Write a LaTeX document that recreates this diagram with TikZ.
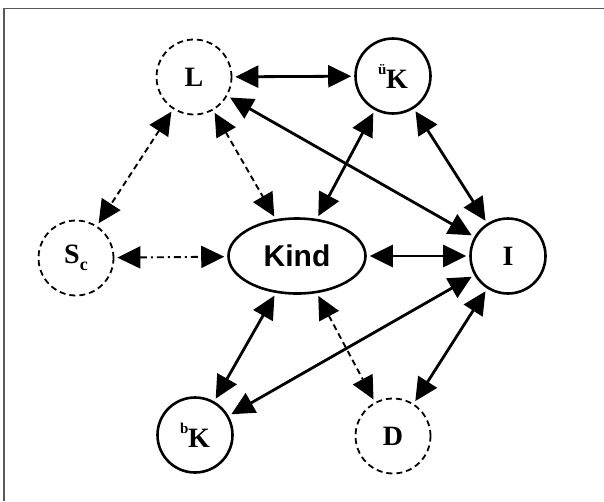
\documentclass[tikz,border=0pt]{standalone}
\usepackage{fontspec}
\setmainfont{Liberation Serif}
\newfontfamily\kindfont{Liberation Sans}
\usetikzlibrary{arrows.meta,shapes.geometric}
\tikzset{
  nd/.style={circle,draw,line width=2.6pt,minimum size=75pt,inner sep=0pt,font=\bfseries\fontsize{28}{28}\selectfont},
  dnd/.style={nd,line width=1.8pt,dash pattern=on 6pt off 4pt},
  conn/.style={line width=2.8pt,{Triangle[length=23pt,width=22pt]}-{Triangle[length=23pt,width=22pt]},shorten <=3pt,shorten >=3pt},
  dconn/.style={conn,line width=1.9pt,dash pattern=on 6pt off 4pt},
  ddconn/.style={conn,line width=1.9pt,dash pattern=on 7pt off 4pt on 2pt off 4pt},
  frame/.style={draw=black!65,line width=1.5pt}
}
\newcommand{\supsc}[1]{\raisebox{0.5em}{\fontsize{15}{15}\selectfont #1}}
\begin{document}
\begin{tikzpicture}[x=1pt,y=-1pt]
\useasboundingbox (0,0) rectangle (604,501);
\draw[frame] (604,8.5) -- (4,8.5) -- (4,501);
\node[dnd] (L) at (194,77) {L};
\node[nd] (UK) at (393,76) {\supsc{ü}\kern-0.5pt K};
\node[dnd] (S) at (76,258) {S\raisebox{-0.25em}{\fontsize{18}{18}\selectfont c}};
\node[ellipse,draw,line width=2.6pt,minimum width=137pt,minimum height=75pt,inner sep=0pt,font=\kindfont\bfseries\fontsize{30}{30}\selectfont] (Kind) at (297,256) {Kind};
\node[nd] (I) at (508,256) {I};
\node[nd] (BK) at (195,435) {\supsc{b}\kern-0.5pt K};
\node[dnd] (D) at (393,436) {D};
\draw[conn] (L) -- (UK);
\draw[conn] (L) -- (I);
\draw[dconn] (L) -- (S);
\draw[dconn] (L) -- (Kind);
\draw[conn] (UK) -- (Kind);
\draw[conn] (UK) -- (I);
\draw[ddconn] (S) -- (Kind);
\draw[conn] (Kind) -- (I);
\draw[conn] (Kind) -- (BK);
\draw[dconn] (Kind) -- (D);
\draw[conn] (I) -- (BK);
\draw[conn] (I) -- (D);
\end{tikzpicture}
\end{document}
